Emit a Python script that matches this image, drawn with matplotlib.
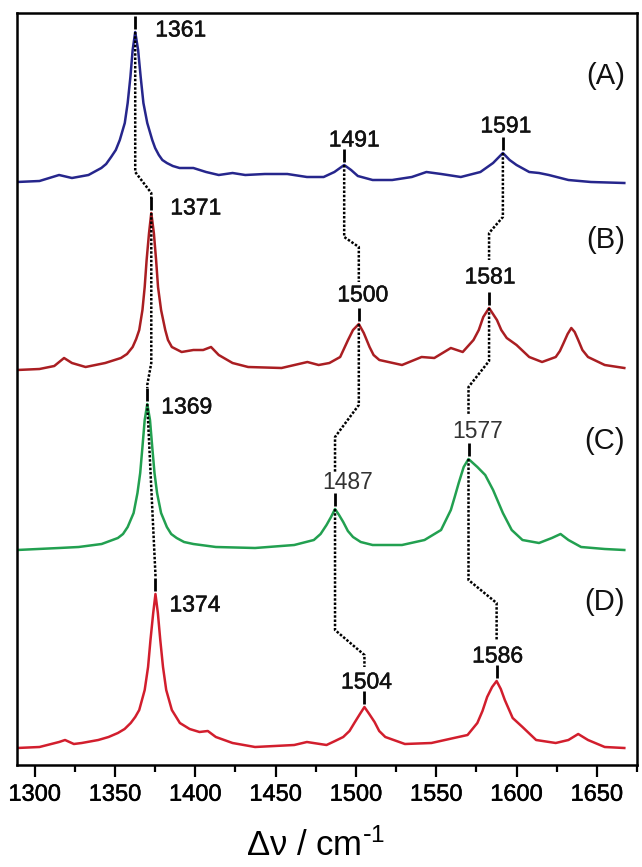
import matplotlib
matplotlib.use("Agg")
import matplotlib.pyplot as plt
import matplotlib.patheffects as pe
import numpy as np

plt.rcParams['font.family'] = ['Liberation Sans', 'DejaVu Sans']
plt.rcParams['mathtext.default'] = 'regular'

# ---------------- data ----------------
wn_A = [1289.0, 1303.0, 1315.2, 1323.2, 1333.5, 1341.5, 1344.5, 1347.6, 1350.5, 1353.0,
        1356.1, 1357.9, 1359.6, 1361.0, 1362.6, 1364.4, 1366.0, 1367.7, 1370.1, 1373.2,
        1375.0, 1377.3, 1379.5, 1382.3, 1386.0, 1390.2, 1398.8, 1406.7, 1414.6, 1423.2,
        1431.1, 1443.3, 1457.3, 1469.5, 1479.9, 1486.6, 1492.7, 1497.0, 1501.2, 1510.4,
        1522.6, 1534.8, 1543.9, 1553.1, 1565.3, 1577.5, 1585.4, 1591.5, 1595.7, 1600.0,
        1607.9, 1614.0, 1620.1, 1632.3, 1646.3, 1667.1]
int_A = [0, 1, 7, 4, 7, 14, 18, 25, 32, 42,
         59, 79, 105, 132, 150, 132, 105, 79, 59, 42,
         34, 27, 22, 19, 16, 14, 14, 10, 7, 9,
         7, 8, 8, 5, 5, 10, 17, 12, 6, 2,
         2, 5, 10, 8, 5, 10, 19, 29, 22, 17,
         10, 9, 7, 2, 0, -1]

wn_B = [1289.0, 1303.0, 1312.2, 1318.3, 1323.2, 1331.7, 1343.9, 1353.7, 1357.5, 1361.0,
        1363.2, 1365.1, 1367.1, 1368.5, 1369.7, 1371.2, 1372.6, 1374.2, 1375.6, 1376.8,
        1378.7, 1381.3, 1383.0, 1385.4, 1391.5, 1398.8, 1404.9, 1409.8, 1414.6, 1423.2,
        1432.9, 1453.7, 1469.8, 1476.8, 1483.5, 1490.2, 1495.1, 1498.2, 1501.8, 1504.9,
        1508.5, 1511.0, 1514.6, 1528.7, 1540.9, 1548.8, 1559.1, 1566.5, 1573.2, 1576.5,
        1579.3, 1582.9, 1587.8, 1590.5, 1593.9, 1600.0, 1607.9, 1615.9, 1624.4, 1627.0,
        1629.3, 1631.8, 1634.1, 1636.2, 1638.4, 1641.0, 1644.5, 1654.9, 1667.1]
int_B = [0, 1, 4, 12, 7, 3, 7, 12, 16, 23,
         31, 40, 60, 83, 110, 137, 157, 137, 110, 83,
         60, 40, 30, 23, 18, 20, 20, 23, 15, 7,
         3, 2, 8, 5, 7, 13, 30, 40, 46, 37,
         23, 15, 10, 5, 13, 12, 22, 18, 30, 40,
         53, 62, 50, 40, 32, 25, 13, 8, 13, 19,
         27, 36, 42, 38, 30, 20, 13, 5, 2]

wn_C = [1289.0, 1315.2, 1327.4, 1341.7, 1351.8, 1355.0, 1357.9, 1361.6, 1364.0, 1365.7,
        1367.1, 1368.5, 1370.1, 1371.8, 1373.2, 1374.6, 1376.2, 1378.7, 1382.3, 1385.0,
        1388.4, 1393.0, 1398.8, 1412.8, 1437.2, 1461.6, 1473.8, 1478.0, 1481.7, 1484.5,
        1487.0, 1489.5, 1492.1, 1495.0, 1498.2, 1503.0, 1510.4, 1528.7, 1542.7, 1553.0,
        1559.1, 1561.5, 1564.0, 1567.1, 1570.1, 1575.6, 1580.5, 1585.4, 1591.5, 1597.0,
        1603.7, 1614.0, 1622.0, 1627.4, 1632.3, 1640.2, 1654.9, 1667.1]
int_C = [-1, 1, 2, 5, 11, 15, 22, 36, 56, 76,
         102, 129, 145, 129, 102, 76, 56, 36, 22, 15,
         11, 7, 5, 2, 1, 4, 9, 15, 24, 32,
         40, 34, 27, 18, 12, 7, 4, 4, 9, 19,
         39, 52, 66, 82, 90, 82, 74, 59, 36, 19,
         9, 6, 11, 15, 9, 2, 0, -1]

wn_D = [1289.0, 1303.0, 1315.2, 1318.9, 1324.4, 1329.3, 1339.6, 1346.0, 1351.8, 1356.0,
        1359.8, 1362.6, 1365.1, 1368.5, 1370.6, 1372.1, 1373.8, 1375.2, 1376.7, 1378.2,
        1379.9, 1381.9, 1385.4, 1390.4, 1396.5, 1402.6, 1407.8, 1412.8, 1423.2, 1437.2,
        1461.6, 1469.5, 1481.7, 1487.0, 1492.1, 1496.0, 1499.4, 1502.5, 1505.3, 1508.3,
        1511.6, 1514.5, 1518.3, 1530.5, 1547.0, 1561.0, 1569.5, 1575.6, 1578.8, 1581.7,
        1584.8, 1587.6, 1590.2, 1592.7, 1597.6, 1603.7, 1612.2, 1624.4, 1632.3, 1638.4,
        1644.5, 1654.9, 1667.1]
int_D = [0, 1, 6, 8, 4, 5, 8, 11, 15, 19,
         25, 31, 38, 58, 81, 108, 135, 154, 135, 108,
         81, 58, 38, 25, 19, 16, 17, 11, 5, 1,
         3, 6, 3, 7, 11, 17, 26, 34, 41, 34,
         26, 17, 11, 4, 5, 10, 13, 25, 37, 51,
         61, 67, 59, 48, 30, 21, 8, 5, 8, 14,
         8, 1, 0]

spectra_names = ['(A)', '(B)', '(C)', '(D)']
offsets = [585, 397, 218, 19]
colors = ['#26268c', '#aa1e22', '#22a050', '#d21e2d']

# labelled bands, one list per band: label text for A, B, C, D
band_labels = [
    ['1361', '1371', '1369', '1374'],
    ['1491', '1500', '1487', '1504'],
    ['1591', '1581', '1577', '1586'],
]
xticks = [1300, 1350, 1400, 1450, 1500, 1550, 1600, 1650]

# ---------------- figure ----------------
fig = plt.figure(figsize=(6.42, 8.67), dpi=100)
ax = fig.add_axes([17 / 642, 102 / 867, 620 / 642, 752 / 867])

heavy = [pe.withStroke(linewidth=0.35, foreground='#111111')]

wns = [wn_A, wn_B, wn_C, wn_D]
ints = [int_A, int_B, int_C, int_D]
for w, i, off, c in zip(wns, ints, offsets, colors):
    ax.plot(w, np.array(i) + off, color=c, lw=1.8, solid_joinstyle='round', zorder=2)


def local_peak(k, target, win=10.0):
    w = np.array(wns[k]); y = np.array(ints[k]) + offsets[k]
    m = (w > target - win) & (w < target + win)
    j = np.argmax(np.where(m, y, -1e9))
    return w[j], y[j]


# label offsets in pixels (dx, dy) and alignment
label_off = [
    [(20, 2, 'left'), (19, 5, 'left'), (14, -3, 'left'), (14, -11, 'left')],
    [(10, 25, 'center'), (4, 29, 'center'), (13, 26, 'center'), (2, 25, 'center')],
    [(3, 27, 'center'), (1, 31, 'center'), (9, 27, 'center'), (1, 25, 'center')],
]
light_labels = {'1487', '1577'}
# connector bends (data units): for each band, for each pair (upper, lower): (y_bend1, y_bend2, y_end)
bends = [
    [(595, 574, 567), (404, 382, 379), (None, 192, 190)],
    [(530, 520, 485), (362, 330, 295), (137, 112, 100)],
    [(550, 534, 507), (406, 380, 352), (187, 164, 127)],
]

for b, labels in enumerate(band_labels):
    peaks = [local_peak(k, float(labels[k])) for k in range(4)]
    for k, (px, py) in enumerate(peaks):
        ax.plot([px, px], [py + 3, py + 16], color='black', lw=2.0, solid_capstyle='butt', zorder=4)
        dx, dy, ha = label_off[b][k]
        light = labels[k] in light_labels
        t = ax.annotate(labels[k], (px, py), xytext=(dx, dy), textcoords='offset pixels',
                        ha=ha, va='center', fontsize=16.5,
                        color='#333333' if light else '#111111', zorder=5)
        if not light:
            t.set_path_effects(heavy)
    for k in range(3):
        (x1, y1), (x2, y2) = peaks[k], peaks[k + 1]
        yb1, yb2, ye = bends[b][k]
        if yb1 is None:
            xs, ys = [x1, x2, x2], [y1, yb2, ye]
        else:
            xs, ys = [x1, x1, x2, x2], [y1, yb1, yb2, ye]
        ax.plot(xs, ys, color='black', lw=1.8, linestyle=(0, (1, 0.7)), zorder=3)

# spectrum letters
letter_y = [691, 527, 326, 165]
for name, y in zip(spectra_names, letter_y):
    ax.annotate(name, (1.0, y), xycoords=('axes fraction', 'data'), xytext=(-12, 0),
                textcoords='offset pixels', ha='right', va='center', fontsize=21,
                color='#111111')

ax.set_xlim(1289, 1667)
ax.set_ylim(2, 754)
ax.set_yticks([])
ax.set_xticks(xticks)
ax.set_xticks([t + 25 for t in xticks], minor=True)
ax.tick_params(axis='x', which='major', direction='out', length=8.5, width=1.6,
               labelsize=17, pad=5, top=False)
ax.tick_params(axis='x', which='minor', direction='out', length=5, width=1.6, top=False)
for lab in ax.get_xticklabels():
    lab.set_path_effects([pe.withStroke(linewidth=0.35, foreground='black')])
for s in ax.spines.values():
    s.set_linewidth(1.8)
ax.set_xlabel(r'Δν / cm$^{\text{-}1}$', fontsize=25, labelpad=16, x=0.482)

fig.savefig('out.png', dpi=100)
